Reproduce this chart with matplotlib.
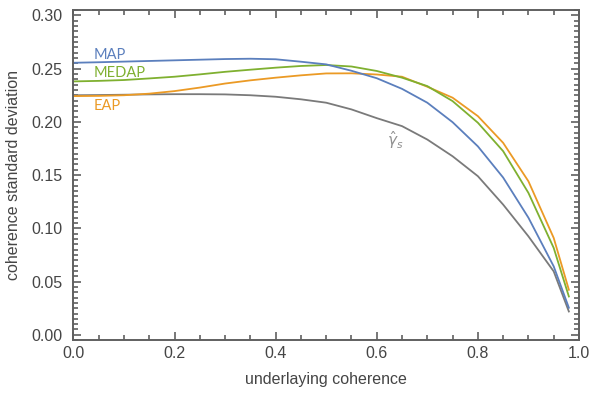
import numpy as np
import matplotlib
matplotlib.use("Agg")
import matplotlib.pyplot as plt
from matplotlib.ticker import MultipleLocator, FormatStrFormatter

# underlying coherence grid
coh = [0.0, 0.05, 0.1, 0.15, 0.2, 0.25, 0.3, 0.35, 0.4, 0.45, 0.5,
       0.55, 0.6, 0.65, 0.7, 0.75, 0.8, 0.85, 0.9, 0.95, 0.98]

# coherence standard deviation per estimator
map_sd = [0.2555, 0.2560, 0.2566, 0.2572, 0.2578, 0.2584, 0.2590, 0.2593, 0.2588, 0.2565, 0.2540,
          0.2480, 0.2410, 0.2310, 0.2180, 0.1997, 0.1770, 0.1477, 0.1100, 0.0643, 0.0254]
medap_sd = [0.2380, 0.2385, 0.2393, 0.2408, 0.2424, 0.2446, 0.2470, 0.2490, 0.2509, 0.2525, 0.2534,
            0.2520, 0.2478, 0.2415, 0.2336, 0.2195, 0.1992, 0.1725, 0.1333, 0.0816, 0.0360]
eap_sd = [0.2242, 0.2244, 0.2250, 0.2265, 0.2289, 0.2322, 0.2360, 0.2390, 0.2415, 0.2437, 0.2455,
          0.2456, 0.2445, 0.2424, 0.2330, 0.2227, 0.2054, 0.1803, 0.1442, 0.0910, 0.0423]
gamma_sd = [0.2250, 0.2252, 0.2255, 0.2258, 0.2260, 0.2260, 0.2258, 0.2250, 0.2236, 0.2212, 0.2180,
            0.2117, 0.2035, 0.1960, 0.1834, 0.1677, 0.1490, 0.1223, 0.0925, 0.0596, 0.0219]

c_map = "#5b7fbd"
c_medap = "#7fb030"
c_eap = "#eb9a25"
c_gamma = "#7a7a7a"
axcol = "#606060"
txtcol = "#454545"

plt.rcParams['font.family'] = ['Liberation Sans', 'DejaVu Sans']

fig = plt.figure(figsize=(5.92, 4.03), dpi=100)
ax = fig.add_axes([0.124, 0.156, 0.854, 0.819])

ax.plot(coh, gamma_sd, color=c_gamma, lw=1.3)
ax.plot(coh, eap_sd, color=c_eap, lw=1.3)
ax.plot(coh, medap_sd, color=c_medap, lw=1.3)
ax.plot(coh, map_sd, color=c_map, lw=1.3)

lab_font = dict(family="Lato", fontsize=10.5)
ax.text(0.04, 0.263, "MAP", color=c_map, va="center", **lab_font)
ax.text(0.04, 0.2455, "MEDAP", color=c_medap, va="center", **lab_font)
ax.text(0.04, 0.215, "EAP", color=c_eap, va="center", **lab_font)
ax.text(0.62, 0.183, r"$\hat{\gamma}_s$", color="#909090", fontsize=11, va="center")

ax.set_xlim(0, 1)
ax.set_ylim(-0.005, 0.305)
ax.xaxis.set_major_locator(MultipleLocator(0.2))
ax.xaxis.set_minor_locator(MultipleLocator(0.05))
ax.yaxis.set_major_locator(MultipleLocator(0.05))
ax.yaxis.set_minor_locator(MultipleLocator(0.005))
ax.xaxis.set_major_formatter(FormatStrFormatter("%.1f"))
ax.yaxis.set_major_formatter(FormatStrFormatter("%.2f"))

ax.tick_params(which="both", direction="in", top=True, right=True, color=axcol, width=1.2)
ax.tick_params(which="major", length=6, labelsize=11.5, labelcolor=txtcol)
ax.tick_params(axis="x", which="major", pad=4)
ax.tick_params(axis="y", which="major", pad=8)
ax.tick_params(which="minor", length=3.5)
for s in ax.spines.values():
    s.set_color(axcol)
    s.set_linewidth(1.4)

ax.set_xlabel("underlaying coherence", fontsize=11.5, color=txtcol, labelpad=8)
ax.set_ylabel("coherence standard deviation", fontsize=11.5, color=txtcol, labelpad=7)

fig.savefig("out.png", dpi=100)
